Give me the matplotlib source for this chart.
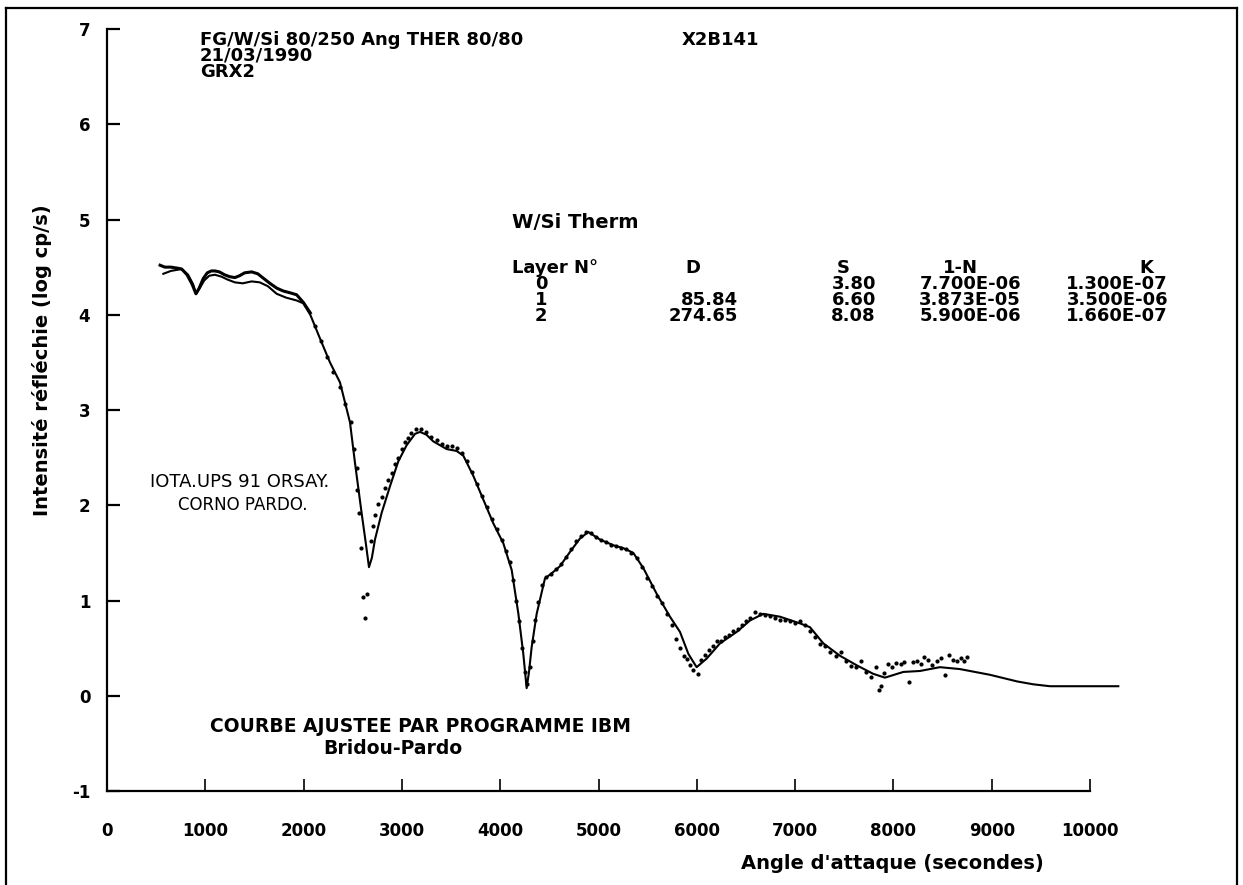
import matplotlib
matplotlib.use("Agg")
import matplotlib.pyplot as plt
from matplotlib.lines import Line2D

# ---------------- data ----------------
# fitted curve (Bridou-Pardo program)
fit_angle = [573, 650, 760, 825, 876, 905, 938, 989, 1041, 1098,
             1164, 1225, 1301, 1380, 1472, 1554, 1636, 1726, 1821, 1929,
             1997, 2068, 2167, 2268, 2370, 2472, 2522, 2590, 2633, 2665,
             2695, 2726, 2794, 2879, 2963, 3048, 3134, 3184, 3250, 3320,
             3455, 3557, 3625, 3726, 3828, 3930, 4032, 4117, 4185, 4235,
             4269, 4293, 4320, 4371, 4455, 4540, 4608, 4710, 4811, 4896,
             5015, 5151, 5252, 5354, 5456, 5592, 5727, 5829, 5914, 5998,
             6100, 6236, 6406, 6541, 6676, 6846, 7049, 7151, 7287, 7456,
             7626, 7795, 7914, 8101, 8270, 8473, 8677, 8982, 9260, 9423,
             9593, 9877, 10288]
fit_logI = [4.43, 4.46, 4.48, 4.42, 4.32, 4.22, 4.27, 4.36, 4.41, 4.42,
            4.40, 4.37, 4.34, 4.33, 4.35, 4.34, 4.30, 4.22, 4.18, 4.15,
            4.12, 4.00, 3.75, 3.50, 3.29, 2.87, 2.45, 1.92, 1.60, 1.35,
            1.45, 1.64, 1.92, 2.20, 2.46, 2.63, 2.75, 2.77, 2.74, 2.67,
            2.59, 2.57, 2.52, 2.31, 2.06, 1.81, 1.60, 1.32, 0.86, 0.44,
            0.08, 0.25, 0.51, 0.86, 1.23, 1.30, 1.36, 1.51, 1.65, 1.72,
            1.64, 1.58, 1.55, 1.50, 1.34, 1.07, 0.83, 0.67, 0.44, 0.30,
            0.39, 0.55, 0.67, 0.79, 0.86, 0.83, 0.76, 0.72, 0.55, 0.42,
            0.32, 0.23, 0.19, 0.25, 0.26, 0.30, 0.28, 0.22, 0.15, 0.12,
            0.10, 0.10, 0.10]

# measured data, low-angle part (dense points, drawn as a trace)
meas_low_angle = [540, 588, 650, 712, 760, 814, 866, 905, 938, 979,
                  1020, 1061, 1098, 1143, 1195, 1246, 1301, 1349, 1400, 1472,
                  1534, 1595, 1657, 1726, 1791, 1863, 1929, 1997, 2068]
meas_low_logI = [4.52, 4.50, 4.50, 4.49, 4.48, 4.42, 4.32, 4.22, 4.28, 4.38,
                 4.44, 4.46, 4.46, 4.45, 4.42, 4.40, 4.39, 4.41, 4.44, 4.45,
                 4.43, 4.38, 4.33, 4.28, 4.25, 4.23, 4.21, 4.13, 4.02]

# measured data points
meas_angle = [2119, 2181, 2243, 2304, 2366, 2417, 2481, 2508, 2542, 2548,
              2568, 2587, 2607, 2624, 2641, 2686, 2709, 2726, 2760, 2794,
              2828, 2862, 2896, 2929, 2963, 2998, 3032, 3065, 3096, 3147,
              3198, 3250, 3301, 3352, 3404, 3455, 3507, 3558, 3609, 3661,
              3712, 3763, 3815, 3866, 3918, 3969, 4020, 4061, 4102, 4133,
              4164, 4195, 4226, 4257, 4277, 4303, 4329, 4354, 4380, 4421,
              4462, 4513, 4565, 4616, 4668, 4719, 4770, 4822, 4873, 4924,
              4976, 5027, 5079, 5130, 5181, 5233, 5284, 5335, 5387, 5438,
              5490, 5541, 5592, 5644, 5695, 5746, 5788, 5829, 5870, 5900,
              5934, 5962, 6017, 6044, 6086, 6127, 6168, 6209, 6250, 6291,
              6332, 6373, 6415, 6456, 6497, 6538, 6589, 6640, 6692, 6743,
              6795, 6846, 6897, 6949, 7000, 7051, 7103, 7154, 7206, 7257,
              7308, 7360, 7411, 7462, 7514, 7565, 7617, 7668, 7719, 7771,
              7822, 7853, 7873, 7904, 7945, 7986, 8028, 8079, 8110, 8161,
              8202, 8243, 8285, 8315, 8356, 8397, 8439, 8480, 8521, 8562,
              8603, 8644, 8685, 8716, 8747]
meas_logI = [3.88, 3.72, 3.56, 3.40, 3.24, 3.06, 2.87, 2.59, 2.39, 2.16,
             1.92, 1.55, 1.04, 0.82, 1.07, 1.62, 1.78, 1.90, 2.01, 2.09,
             2.18, 2.27, 2.34, 2.43, 2.50, 2.59, 2.66, 2.71, 2.76, 2.80,
             2.80, 2.77, 2.72, 2.68, 2.64, 2.62, 2.62, 2.60, 2.55, 2.46,
             2.35, 2.22, 2.10, 1.98, 1.86, 1.75, 1.64, 1.52, 1.40, 1.22,
             1.00, 0.78, 0.50, 0.25, 0.12, 0.30, 0.58, 0.80, 0.98, 1.16,
             1.25, 1.28, 1.33, 1.38, 1.46, 1.54, 1.62, 1.68, 1.72, 1.71,
             1.67, 1.64, 1.61, 1.58, 1.57, 1.55, 1.54, 1.50, 1.45, 1.35,
             1.24, 1.15, 1.05, 0.97, 0.86, 0.74, 0.60, 0.50, 0.42, 0.39,
             0.32, 0.27, 0.23, 0.38, 0.43, 0.48, 0.52, 0.57, 0.58, 0.62,
             0.64, 0.68, 0.70, 0.74, 0.78, 0.82, 0.88, 0.86, 0.85, 0.84,
             0.82, 0.80, 0.80, 0.78, 0.76, 0.78, 0.74, 0.68, 0.62, 0.54,
             0.52, 0.46, 0.42, 0.46, 0.36, 0.31, 0.30, 0.36, 0.25, 0.20,
             0.30, 0.06, 0.10, 0.24, 0.33, 0.30, 0.34, 0.33, 0.35, 0.14,
             0.35, 0.37, 0.33, 0.41, 0.38, 0.32, 0.36, 0.40, 0.22, 0.43,
             0.38, 0.37, 0.40, 0.36, 0.41]

x_ticks = [0, 1000, 2000, 3000, 4000, 5000, 6000, 7000, 8000, 9000, 10000]
y_ticks = [-1, 0, 1, 2, 3, 4, 5, 6, 7]

header_lines = ["FG/W/Si 80/250 Ang THER 80/80", "21/03/1990", "GRX2"]
sample_id = "X2B141"
table_title = "W/Si Therm"
table_cols = ["Layer N°", "D", "S", "1-N", "K"]
layer_no = ["0", "1", "2"]
layer_D = ["", "85.84", "274.65"]
layer_S = ["3.80", "6.60", "8.08"]
layer_1mN = ["7.700E-06", "3.873E-05", "5.900E-06"]
layer_K = ["1.300E-07", "3.500E-06", "1.660E-07"]

# ---------------- figure ----------------
W, H = 1243, 885
plt.rcParams["font.family"] = ["DejaVu Sans"]
fig = plt.figure(figsize=(W / 100, H / 100), dpi=100)
fig.patch.set_facecolor("white")

px0, px1 = 107, 1090      # pixel columns of x=0 and x=10000
py7, pym1 = 29, 791       # pixel rows of y=7 and y=-1
ax = fig.add_axes([px0 / W, 1 - pym1 / H, (px1 - px0) / W, (pym1 - py7) / H])
ax.set_xlim(0, 10000)
ax.set_ylim(-1, 7)
for s in ("top", "right"):
    ax.spines[s].set_visible(False)
for s in ("left", "bottom"):
    ax.spines[s].set_linewidth(1.6)
ax.set_xticks(x_ticks)
ax.set_yticks(y_ticks)
ax.set_xticklabels([str(v) for v in x_ticks])
ax.set_yticklabels([str(v) for v in y_ticks])
ax.tick_params(axis="x", direction="in", length=9, width=1.2, pad=22,
               labelsize=12)
ax.tick_params(axis="y", direction="in", length=9, width=1.6, pad=12,
               labelsize=12)
for lab in ax.get_xticklabels() + ax.get_yticklabels():
    lab.set_fontweight("bold")

ax.plot(fit_angle, fit_logI, color="black", lw=1.5, solid_joinstyle="round",
        clip_on=False)
ax.plot(meas_low_angle, meas_low_logI, color="black", lw=2.2,
        solid_joinstyle="round")
ax.plot(meas_angle, meas_logI, linestyle="none", marker="o", ms=2.0,
        color="black")

ax.set_xlabel("Angle d'attaque (secondes)", fontsize=14, fontweight="bold")
ax.xaxis.set_label_coords(0.799, -0.083)
ax.set_ylabel("Intensité réfléchie (log cp/s)", fontsize=14,
              fontweight="bold")
ax.yaxis.set_label_coords(-0.056, 0.565)


def ftext(x, y, s, **kw):
    kw.setdefault("fontsize", 13)
    kw.setdefault("fontweight", "bold")
    kw.setdefault("va", "center")
    fig.text(x / W, 1 - y / H, s, **kw)


# header block
for i, line in enumerate(header_lines):
    ftext(200, 40 + 16 * i, line, ha="left")
ftext(682, 40, sample_id, ha="left")

# table
ftext(512, 222, table_title, ha="left", fontsize=14)
ty = 268
ftext(512, ty, table_cols[0], ha="left")
ftext(693, ty, table_cols[1], ha="center")
ftext(843, ty, table_cols[2], ha="center")
ftext(960, ty, table_cols[3], ha="center")
ftext(1146, ty, table_cols[4], ha="center")
for i in range(3):
    yy = ty + 16 * (i + 1)
    ftext(541, yy, layer_no[i], ha="center")
    if layer_D[i]:
        ftext(738, yy, layer_D[i], ha="right")
    ftext(876, yy, layer_S[i], ha="right")
    ftext(1021, yy, layer_1mN[i], ha="right")
    ftext(1168, yy, layer_K[i], ha="right")

# stamp
ftext(240, 482, "IOTA.UPS 91 ORSAY.", ha="center", fontweight="normal",
      fontsize=13)
ftext(243, 505, "CORNO PARDO.", ha="center", fontweight="normal",
      fontsize=12)

# program note
ftext(420, 727, "COURBE AJUSTEE PAR PROGRAMME IBM", ha="center",
      fontsize=13.5)
ftext(393, 749, "Bridou-Pardo", ha="center", fontsize=13.5)

# page border
for xs, ys in (([6, 6], [885, 8]), ([6, 1237], [8, 8]), ([1237, 1237], [8, 885])):
    fig.add_artist(Line2D([x / W for x in xs], [1 - y / H for y in ys],
                          color="black", lw=1.6, transform=fig.transFigure))

fig.savefig("out.png", dpi=100, facecolor="white")
